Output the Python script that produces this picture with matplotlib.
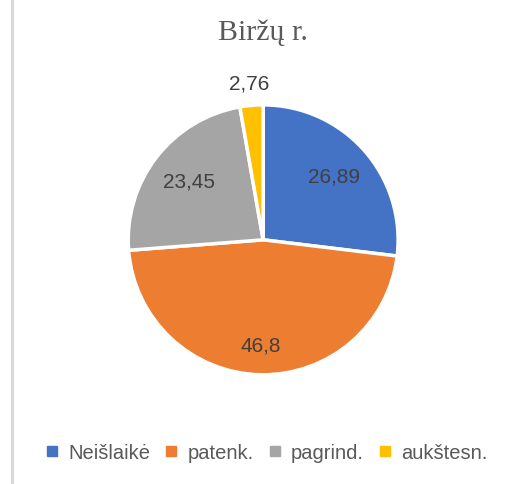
import matplotlib.pyplot as plt
from matplotlib.lines import Line2D

# Duomenys
categories = ['Neišlaikė', 'patenk.', 'pagrind.', 'aukštesn.']
values = [26.89, 46.8, 23.45, 2.76]
value_labels = ['26,89', '46,8', '23,45', '2,76']
colors = ['#4472C4', '#ED7D31', '#A5A5A5', '#FFC000']

fig = plt.figure(figsize=(5.13, 4.84), dpi=100)

# kairės pusės rėmelio linija
fig.add_artist(Line2D([0.0225, 0.0225], [0.0, 1.0], color='#D9D9D9', lw=2.2))

ax = fig.add_axes([0.184, 0.156, 0.658, 0.697])
wedges, texts = ax.pie(values, colors=colors, startangle=90, counterclock=False,
                       labels=value_labels, labeldistance=0.70,
                       wedgeprops=dict(edgecolor='white', linewidth=2.5),
                       textprops=dict(color='#404040', fontsize=15,
                                      family='Liberation Sans', ha='center', va='center'))
ax.set_aspect('equal')

# mažiausios dalies etiketė už skritulio ribų
x, y = texts[3].get_position()
texts[3].set_position((x / 0.70 * 1.16, y / 0.70 * 1.16))
# apatinė etiketė kiek žemiau
x, y = texts[1].get_position()
texts[1].set_position((x / 0.70 * 0.79, y / 0.70 * 0.79))

fig.text(0.513, 0.932, 'Biržų r.', ha='center', va='center',
         fontsize=21.5, family='Liberation Serif', color='#595959')

handles = [Line2D([], [], marker='s', linestyle='none', markersize=7,
                  markerfacecolor=c, markeredgecolor=c) for c in colors]
fig.legend(handles, categories, loc='center', bbox_to_anchor=(0.52, 0.064), ncol=4,
           frameon=False, handlelength=0.6, handletextpad=0.5, columnspacing=0.75,
           prop=dict(family='Liberation Sans', size=14.5), labelcolor='#595959')

plt.savefig('out.png', dpi=100)
